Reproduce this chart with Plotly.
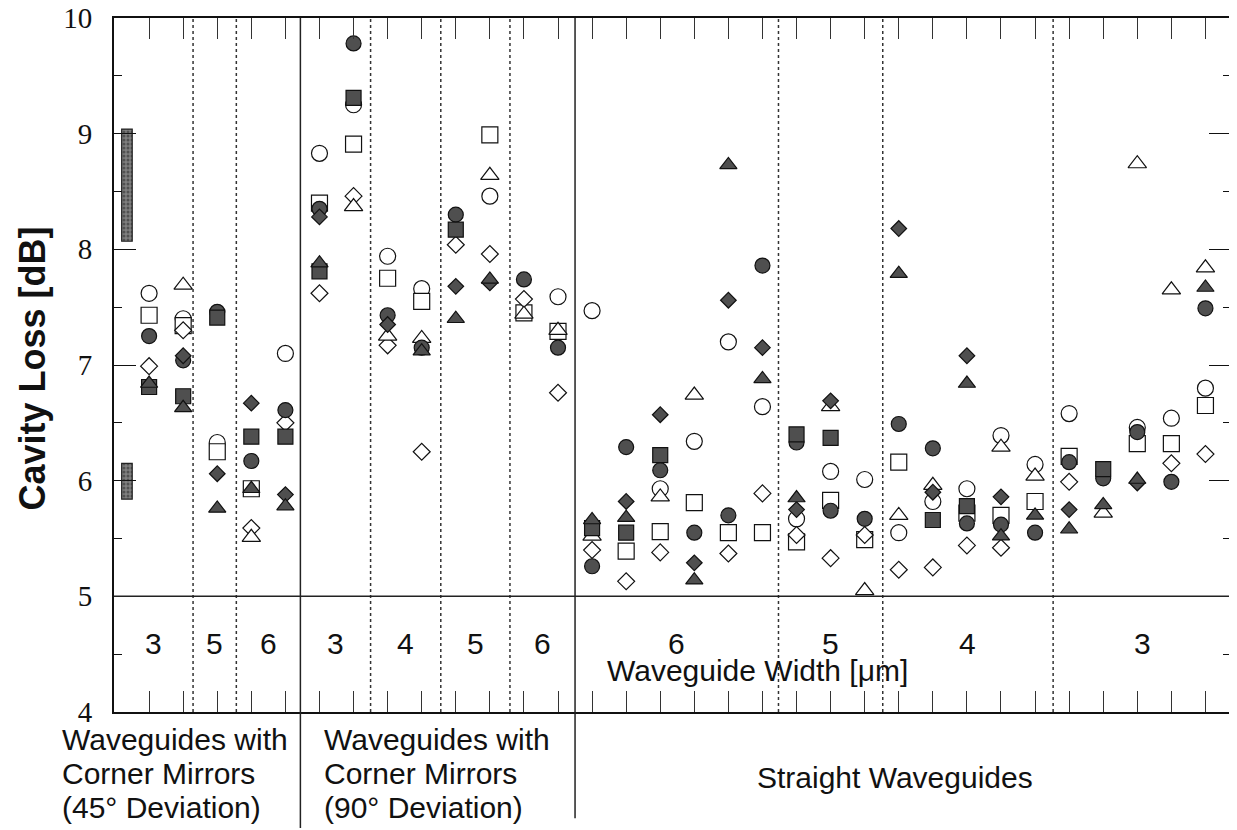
import plotly.graph_objects as go

# ---------------- data (column index along the sample axis, cavity loss in dB) ----------------
oc_col = [1, 2, 3, 5, 6, 7, 8, 9, 11, 13, 14, 16, 17, 18, 19, 20, 21, 22, 23, 24, 25, 26, 27, 28, 30, 31, 32]
oc_val = [7.62, 7.40, 6.33, 7.10, 8.83, 9.25, 7.94, 7.66, 8.46, 7.59, 7.47, 5.93, 6.34, 7.20, 6.64, 5.67,
          6.08, 6.01, 5.55, 5.82, 5.93, 6.39, 6.14, 6.58, 6.46, 6.54, 6.80]

os_col = [1, 2, 3, 4, 6, 7, 8, 9, 11, 12, 13, 15, 16, 17, 18, 19, 20, 21, 22, 23, 25, 26, 27, 28, 30, 31, 32]
os_val = [7.43, 7.34, 6.25, 5.93, 8.40, 8.91, 7.75, 7.55, 8.99, 7.45, 7.29, 5.39, 5.56, 5.81, 5.55, 5.55,
          5.47, 5.83, 5.49, 6.16, 5.72, 5.70, 5.82, 6.21, 6.32, 6.32, 6.65]

ot_col = [2, 4, 7, 8, 9, 11, 12, 13, 14, 16, 17, 21, 22, 23, 24, 26, 27, 29, 30, 31, 32]
ot_val = [7.69, 5.51, 8.37, 7.25, 7.23, 8.64, 7.44, 7.30, 5.52, 5.86, 6.74, 6.64, 5.05, 5.70, 5.96, 6.29,
          6.04, 5.72, 8.74, 7.65, 7.84]

od_col = [1, 2, 4, 5, 6, 7, 8, 9, 10, 11, 12, 13, 14, 15, 16, 18, 19, 20, 21, 22, 23, 24, 25, 26, 28, 31, 32]
od_val = [6.99, 7.30, 5.59, 6.50, 7.62, 8.46, 7.17, 6.25, 8.04, 7.96, 7.57, 6.76, 5.40, 5.13, 5.38, 5.37,
          5.89, 5.53, 5.33, 5.53, 5.23, 5.25, 5.44, 5.42, 5.99, 6.15, 6.23]

fc_col = [1, 2, 3, 4, 5, 6, 7, 8, 9, 10, 12, 13, 14, 15, 16, 17, 18, 19, 20, 21, 22, 23, 24, 25, 26, 27,
          28, 29, 30, 31, 32]
fc_val = [7.25, 7.04, 7.46, 6.17, 6.61, 8.35, 9.78, 7.43, 7.15, 8.30, 7.74, 7.15, 5.26, 6.29, 6.09, 5.55,
          5.70, 7.86, 6.33, 5.74, 5.67, 6.49, 6.28, 5.63, 5.62, 5.55, 6.16, 6.02, 6.42, 5.99, 7.49]

fs_col = [1, 2, 3, 4, 5, 6, 7, 10, 14, 15, 16, 20, 21, 24, 25, 29]
fs_val = [6.81, 6.73, 7.41, 6.38, 6.38, 7.81, 9.31, 8.17, 5.59, 5.55, 6.22, 6.40, 6.37, 5.66, 5.78, 6.10]

ft_col = [1, 2, 3, 4, 5, 6, 9, 10, 11, 14, 15, 17, 18, 19, 20, 23, 25, 26, 27, 28, 29, 30, 32]
ft_val = [6.84, 6.63, 5.76, 5.93, 5.78, 7.88, 7.12, 7.40, 7.74, 5.66, 5.68, 5.14, 8.73, 6.88, 5.85, 7.79,
          6.84, 5.52, 5.70, 5.58, 5.79, 6.01, 7.67]

fd_col = [2, 3, 4, 5, 6, 8, 10, 11, 15, 16, 17, 18, 19, 20, 21, 23, 24, 25, 26, 28, 30]
fd_val = [7.08, 6.06, 6.67, 5.88, 8.28, 7.35, 7.68, 7.71, 5.82, 6.57, 5.29, 7.56, 7.15, 5.75, 6.69, 8.18,
          5.90, 7.08, 5.86, 5.75, 5.98]

# range bars at the left edge
bar_col = [0.35, 0.35]
bar_low = [8.07, 5.84]
bar_high = [9.04, 6.15]

# section boundaries along the sample axis
x_start, x_end = -0.03, 32.75
minor_bounds = [2.29, 3.56, 7.5, 9.56, 11.59, 19.47, 22.53, 27.53]
group_bounds = [5.44, 13.5]
width_labels = ["3", "5", "6", "3", "4", "5", "6", "6", "5", "4", "3"]
y_ticks = [4, 5, 6, 7, 8, 9, 10]
sample_ticks = list(range(1, 33))

# ---------------- figure ----------------
FILL = "#4f4f4f"
fig = go.Figure()

fig.add_trace(go.Bar(
    x=bar_col, y=[h - l for h, l in zip(bar_high, bar_low)], base=bar_low, width=0.31,
    marker=dict(color="#6a6a6a", line=dict(color="#222", width=1.2),
                pattern=dict(shape=".", fgcolor="#222", bgcolor="#808080", size=4, solidity=0.45)),
    hoverinfo="skip"))

series = [
    (oc_col, oc_val, "circle", "white", 16),
    (os_col, os_val, "square", "white", 16),
    (od_col, od_val, "diamond", "white", 13),
    (ot_col, ot_val, "triangle-up", "white", 16),
    (fc_col, fc_val, "circle", FILL, 15),
    (fs_col, fs_val, "square", FILL, 15),
    (fd_col, fd_val, "diamond", FILL, 12),
    (ft_col, ft_val, "triangle-up", FILL, 15),
]
for cols, vals, sym, col, sz in series:
    fig.add_trace(go.Scatter(
        x=cols, y=vals, mode="markers",
        marker=dict(symbol=sym, size=sz, color=col, line=dict(color="#111", width=1.2))))

shapes = []
for b in minor_bounds:
    shapes.append(dict(type="line", xref="x", yref="y", x0=b, x1=b, y0=4, y1=10,
                       line=dict(color="#333", width=1.5, dash="dot")))
for b, bottom in zip(group_bounds, [-0.167, -0.153]):
    shapes.append(dict(type="line", xref="x", yref="paper", x0=b, x1=b, y0=1, y1=bottom,
                       line=dict(color="#222", width=1.5)))
shapes.append(dict(type="line", xref="paper", yref="y", x0=0, x1=1, y0=5, y1=5,
                   line=dict(color="#222", width=1.5)))

bounds = [x_start] + sorted(minor_bounds + group_bounds) + [x_end]
sans = "Liberation Sans, Arial, sans-serif"
annotations = []
for i, lab in enumerate(width_labels):
    annotations.append(dict(x=(bounds[i] + bounds[i + 1]) / 2, y=4.59, xref="x", yref="y",
                            text=lab, showarrow=False, xanchor="center", yanchor="middle",
                            font=dict(family=sans, size=30, color="#111")))
annotations.append(dict(x=18.84, y=4.363, xref="x", yref="y", text="Waveguide Width [μm]",
                        showarrow=False, xanchor="center", yanchor="middle",
                        font=dict(family=sans, size=30, color="#111")))

for lines, x0 in [(["Waveguides with", "Corner Mirrors", "(45° Deviation)"], -0.0483),
                  (["Waveguides with", "Corner Mirrors", "(90° Deviation)"], 0.186)]:
    for line, yy in zip(lines, [-0.0403, -0.0879, -0.138]):
        annotations.append(dict(x=x0, y=yy, xref="paper", yref="paper", text=line,
                                xanchor="left", yanchor="middle", showarrow=False,
                                font=dict(family=sans, size=30, color="#111")))
annotations.append(dict(x=0.699, y=-0.0937, xref="paper", yref="paper", text="Straight Waveguides",
                        xanchor="center", yanchor="middle", showarrow=False,
                        font=dict(family=sans, size=30, color="#111")))
annotations.append(dict(x=-0.0734, y=0.495, xref="paper", yref="paper", text="<b>Cavity Loss [dB]</b>",
                        textangle=-90, xanchor="center", yanchor="middle", showarrow=False,
                        font=dict(family=sans, size=36, color="#111")))

# the page body adds an 8px offset, so the figure is sized/margined to land the frame
# at the same pixel positions as the reference
fig.update_layout(
    width=1229, height=822,
    margin=dict(l=106, r=6, t=10, b=118, autoexpand=False),
    plot_bgcolor="white", paper_bgcolor="white",
    showlegend=False, barmode="overlay",
    shapes=shapes, annotations=annotations,
    xaxis=dict(range=[x_start, x_end], tickvals=sample_ticks, ticks="inside", ticklen=21,
               tickwidth=1, tickcolor="#333", showticklabels=False, showline=True, linewidth=2,
               linecolor="#111", mirror="allticks", showgrid=False, zeroline=False,
               automargin=False),
    yaxis=dict(range=[4, 10], tickvals=y_ticks, ticks="inside", ticklen=22, tickwidth=1,
               tickcolor="#111", tickfont=dict(family="Liberation Serif, Times New Roman, serif",
                                               size=29, color="#111"),
               ticklabelstandoff=14, ticklabeloverflow="allow", automargin=False,
               minor=dict(dtick=0.5, ticks="inside", ticklen=8, tickcolor="#111", tickwidth=1),
               showline=True, linewidth=2, linecolor="#111", mirror="allticks",
               showgrid=False, zeroline=False),
)

fig.write_html("out.html")
